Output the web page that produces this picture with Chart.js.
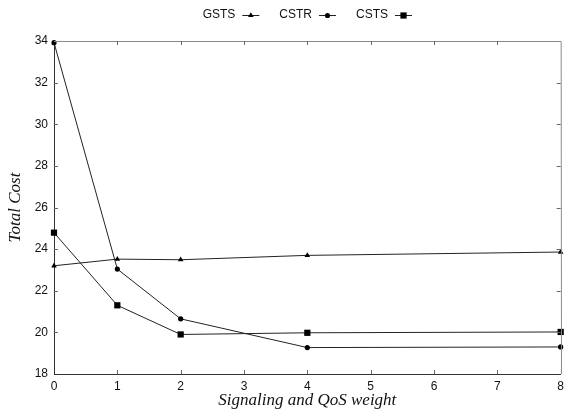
<!DOCTYPE html>
<html>
<head>
<meta charset="utf-8">
<script src="https://cdn.jsdelivr.net/npm/chart.js@4/dist/chart.umd.min.js"></script>
<style>
  html, body { margin: 0; padding: 0; background: #fff; }
  #wrap { width: 569px; height: 415px; }
</style>
</head>
<body>
<div id="wrap"><canvas id="cost-chart"></canvas></div>
<script>
const weights = [0, 1, 2, 4, 8];
const gstsCost = [23.2, 23.52, 23.49, 23.7, 23.86];
const cstrCost = [33.92, 23.04, 20.65, 19.27, 19.3];
const cstsCost = [24.79, 21.3, 19.9, 19.98, 20.02];
const seriesNames = ['GSTS', 'CSTR', 'CSTS'];
const markerStyles = ['triangle', 'circle', 'rect'];
const markerSizes = [3.2, 2.6, 4.4];
const xMin = 0, xMax = 8, xStep = 1;
const yMin = 18, yMax = 34, yStep = 2;

const sansFont = '"Liberation Sans", Arial, sans-serif';
const serifFont = '"Liberation Serif", "Times New Roman", serif';
const lineColor = '#222';

function toPoints(values) {
    return weights.map((w, i) => ({x: w, y: values[i]}));
}

const allSeries = [gstsCost, cstrCost, cstsCost];
const datasets = allSeries.map((values, i) => ({
    label: seriesNames[i],
    data: toPoints(values),
    borderColor: lineColor,
    backgroundColor: '#000',
    borderWidth: 1,
    pointStyle: markerStyles[i],
    pointRadius: markerSizes[i],
    pointBorderWidth: 0,
    pointBackgroundColor: '#000',
    tension: 0,
    clip: false,
}));

// ticks pointing inside + grey top/right frame + legend with samples after text
const framePlugin = {
    id: 'frame',
    afterDraw(chart) {
        const ctx = chart.ctx;
        const area = chart.chartArea;
        const xs = chart.scales.x;
        const ys = chart.scales.y;
        const tickLen = 4;
        ctx.save();
        ctx.lineWidth = 1;

        // top and right edges
        ctx.strokeStyle = '#8a8a8a';
        ctx.beginPath();
        ctx.moveTo(area.left, Math.round(area.top) + 0.5);
        ctx.lineTo(area.right + 0.5, Math.round(area.top) + 0.5);
        ctx.lineTo(Math.round(area.right) + 0.5, area.bottom);
        ctx.stroke();

        ctx.strokeStyle = '#666';
        ctx.beginPath();
        xs.ticks.forEach(t => {
            const px = Math.round(xs.getPixelForValue(t.value)) + 0.5;
            if (t.value === xMin || t.value === xMax) return;
            ctx.moveTo(px, area.bottom);
            ctx.lineTo(px, area.bottom - tickLen);
            ctx.moveTo(px, area.top);
            ctx.lineTo(px, area.top + tickLen);
        });
        ys.ticks.forEach(t => {
            const py = Math.round(ys.getPixelForValue(t.value)) + 0.5;
            if (t.value === yMin || t.value === yMax) return;
            ctx.moveTo(area.left, py);
            ctx.lineTo(area.left + tickLen, py);
            ctx.moveTo(area.right, py);
            ctx.lineTo(area.right - tickLen, py);
        });
        ctx.stroke();

        // legend
        ctx.font = '12px ' + sansFont;
        ctx.textBaseline = 'middle';
        ctx.fillStyle = '#111';
        const sampleLen = 17, textGap = 7, itemGap = 20;
        const widths = seriesNames.map(n => ctx.measureText(n).width);
        let total = 0;
        widths.forEach(w => total += w + textGap + sampleLen);
        total += itemGap * (seriesNames.length - 1);
        let x = (area.left + area.right) / 2 - total / 2;
        const y = 15;
        seriesNames.forEach((name, i) => {
            ctx.fillStyle = '#111';
            ctx.fillText(name, x, y);
            x += widths[i] + textGap;
            ctx.strokeStyle = lineColor;
            ctx.beginPath();
            ctx.moveTo(x, y + 0.5);
            ctx.lineTo(x + sampleLen, y + 0.5);
            ctx.stroke();
            ctx.fillStyle = '#000';
            Chart.helpers.drawPoint(ctx, {
                pointStyle: markerStyles[i],
                radius: markerSizes[i],
                rotation: 0,
                borderWidth: 0
            }, x + sampleLen / 2, y + 0.5);
            x += sampleLen + itemGap;
        });
        ctx.restore();
    }
};

const ctx = document.getElementById('cost-chart').getContext('2d');
new Chart(ctx, {
    type: 'line',
    data: {datasets: datasets},
    options: {
        responsive: true,
        maintainAspectRatio: false,
        animation: false,
        layout: {padding: {top: 41, right: 7, left: 0, bottom: 0}},
        scales: {
            x: {
                type: 'linear',
                min: xMin,
                max: xMax,
                afterFit: (s) => { s.height = 41; },
                ticks: {stepSize: xStep, color: '#111', padding: 5, font: {family: sansFont, size: 12}},
                grid: {display: false, drawTicks: false},
                border: {display: true, color: '#333', width: 1},
                title: {
                    display: true,
                    text: 'Signaling and QoS weight',
                    color: '#111',
                    font: {family: serifFont, size: 17, style: 'italic'},
                    padding: {top: 0, bottom: 4}
                }
            },
            y: {
                min: yMin,
                max: yMax,
                afterFit: (s) => { s.width = 54; },
                ticks: {stepSize: yStep, color: '#111', padding: 6, font: {family: sansFont, size: 12}},
                grid: {display: false, drawTicks: false},
                border: {display: true, color: '#333', width: 1},
                title: {
                    display: true,
                    text: 'Total Cost',
                    color: '#111',
                    font: {family: serifFont, size: 17, style: 'italic'},
                    padding: {top: 5, bottom: 0}
                }
            }
        },
        plugins: {
            legend: {display: false},
            tooltip: {enabled: false}
        }
    },
    plugins: [framePlugin]
});
</script>
</body>
</html>
